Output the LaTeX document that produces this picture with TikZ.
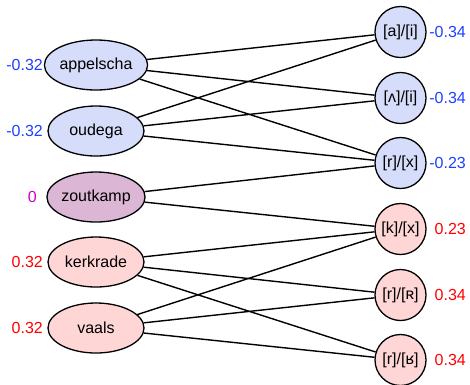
\documentclass[tikz,border=0pt]{standalone}
\usepackage{fontspec}
\setmainfont{Liberation Sans}
\usetikzlibrary{shapes.geometric}
\definecolor{bluefill}{HTML}{D6DDFA}
\definecolor{pinkfill}{HTML}{FFD6D6}
\definecolor{mauvefill}{HTML}{DBB6D5}
\definecolor{bluetxt}{HTML}{1F40FF}
\definecolor{redtxt}{HTML}{FF0000}
\definecolor{magtxt}{HTML}{CC00CC}
\tikzset{
  place/.style={ellipse, draw=black, line width=1.3pt, minimum width=96pt, minimum height=50pt, inner sep=0pt, font=\fontsize{16}{19}\selectfont},
  feat/.style={circle, draw=black, line width=1.3pt, minimum size=51pt, inner sep=0pt, font=\fontsize{16}{19}\selectfont},
  val/.style={font=\fontsize{16}{19}\selectfont, inner sep=0pt},
  link/.style={draw=black, line width=1.4pt}
}
\begin{document}
\begin{tikzpicture}[x=1pt,y=-1pt]
\useasboundingbox (0,0) rectangle (470,384);
% left nodes
\node[place, fill=bluefill] (appelscha) at (96,65) {appelscha};
\node[place, fill=bluefill] (oudega) at (96,131) {oudega};
\node[place, fill=mauvefill] (zoutkamp) at (96,197) {zoutkamp};
\node[place, fill=pinkfill] (kerkrade) at (96,262) {kerkrade};
\node[place, fill=pinkfill] (vaals) at (96,328) {vaals};
% right nodes
\node[feat, fill=bluefill] (ai) at (400.5,32) {[a]/[i]};
\node[feat, fill=bluefill] (vi) at (400.5,98) {[ʌ]/[i]};
\node[feat, fill=bluefill] (rx) at (400.5,163) {[r]/[x]};
\node[feat, fill=pinkfill] (kx) at (400.5,229) {[k]/[x]};
\node[feat, fill=pinkfill] (rR) at (400.5,295) {[r]/[ʀ]};
\node[feat, fill=pinkfill] (rI) at (400.5,360) {[r]/[ʁ]};
% edges
\foreach \a/\b in {appelscha/ai, appelscha/vi, appelscha/rx,
                   oudega/ai, oudega/vi, oudega/rx,
                   zoutkamp/rx, zoutkamp/kx,
                   kerkrade/kx, kerkrade/rR, kerkrade/rI,
                   vaals/kx, vaals/rR, vaals/rI}
  \draw[link] (\a) -- (\b);
% left values
\node[val, text=bluetxt, anchor=east] (lv1) at (43,65) {-0.32};
\node[val, text=bluetxt, anchor=east] (lv2) at (43,131) {-0.32};
\node[val, text=magtxt, anchor=east] (lv3) at (37,197) {0};
\node[val, text=redtxt, anchor=east] (lv4) at (43,262) {0.32};
\node[val, text=redtxt, anchor=east] (lv5) at (43,328) {0.32};
% right values
\node[val, text=bluetxt, anchor=east] (rv1) at (466,32) {-0.34};
\node[val, text=bluetxt, anchor=east] (rv2) at (466,98) {-0.34};
\node[val, text=bluetxt, anchor=east] (rv3) at (466,163) {-0.23};
\node[val, text=redtxt, anchor=east] (rv4) at (466,229) {0.23};
\node[val, text=redtxt, anchor=east] (rv5) at (466,295) {0.34};
\node[val, text=redtxt, anchor=east] (rv6) at (466,360) {0.34};
\end{tikzpicture}
\end{document}
